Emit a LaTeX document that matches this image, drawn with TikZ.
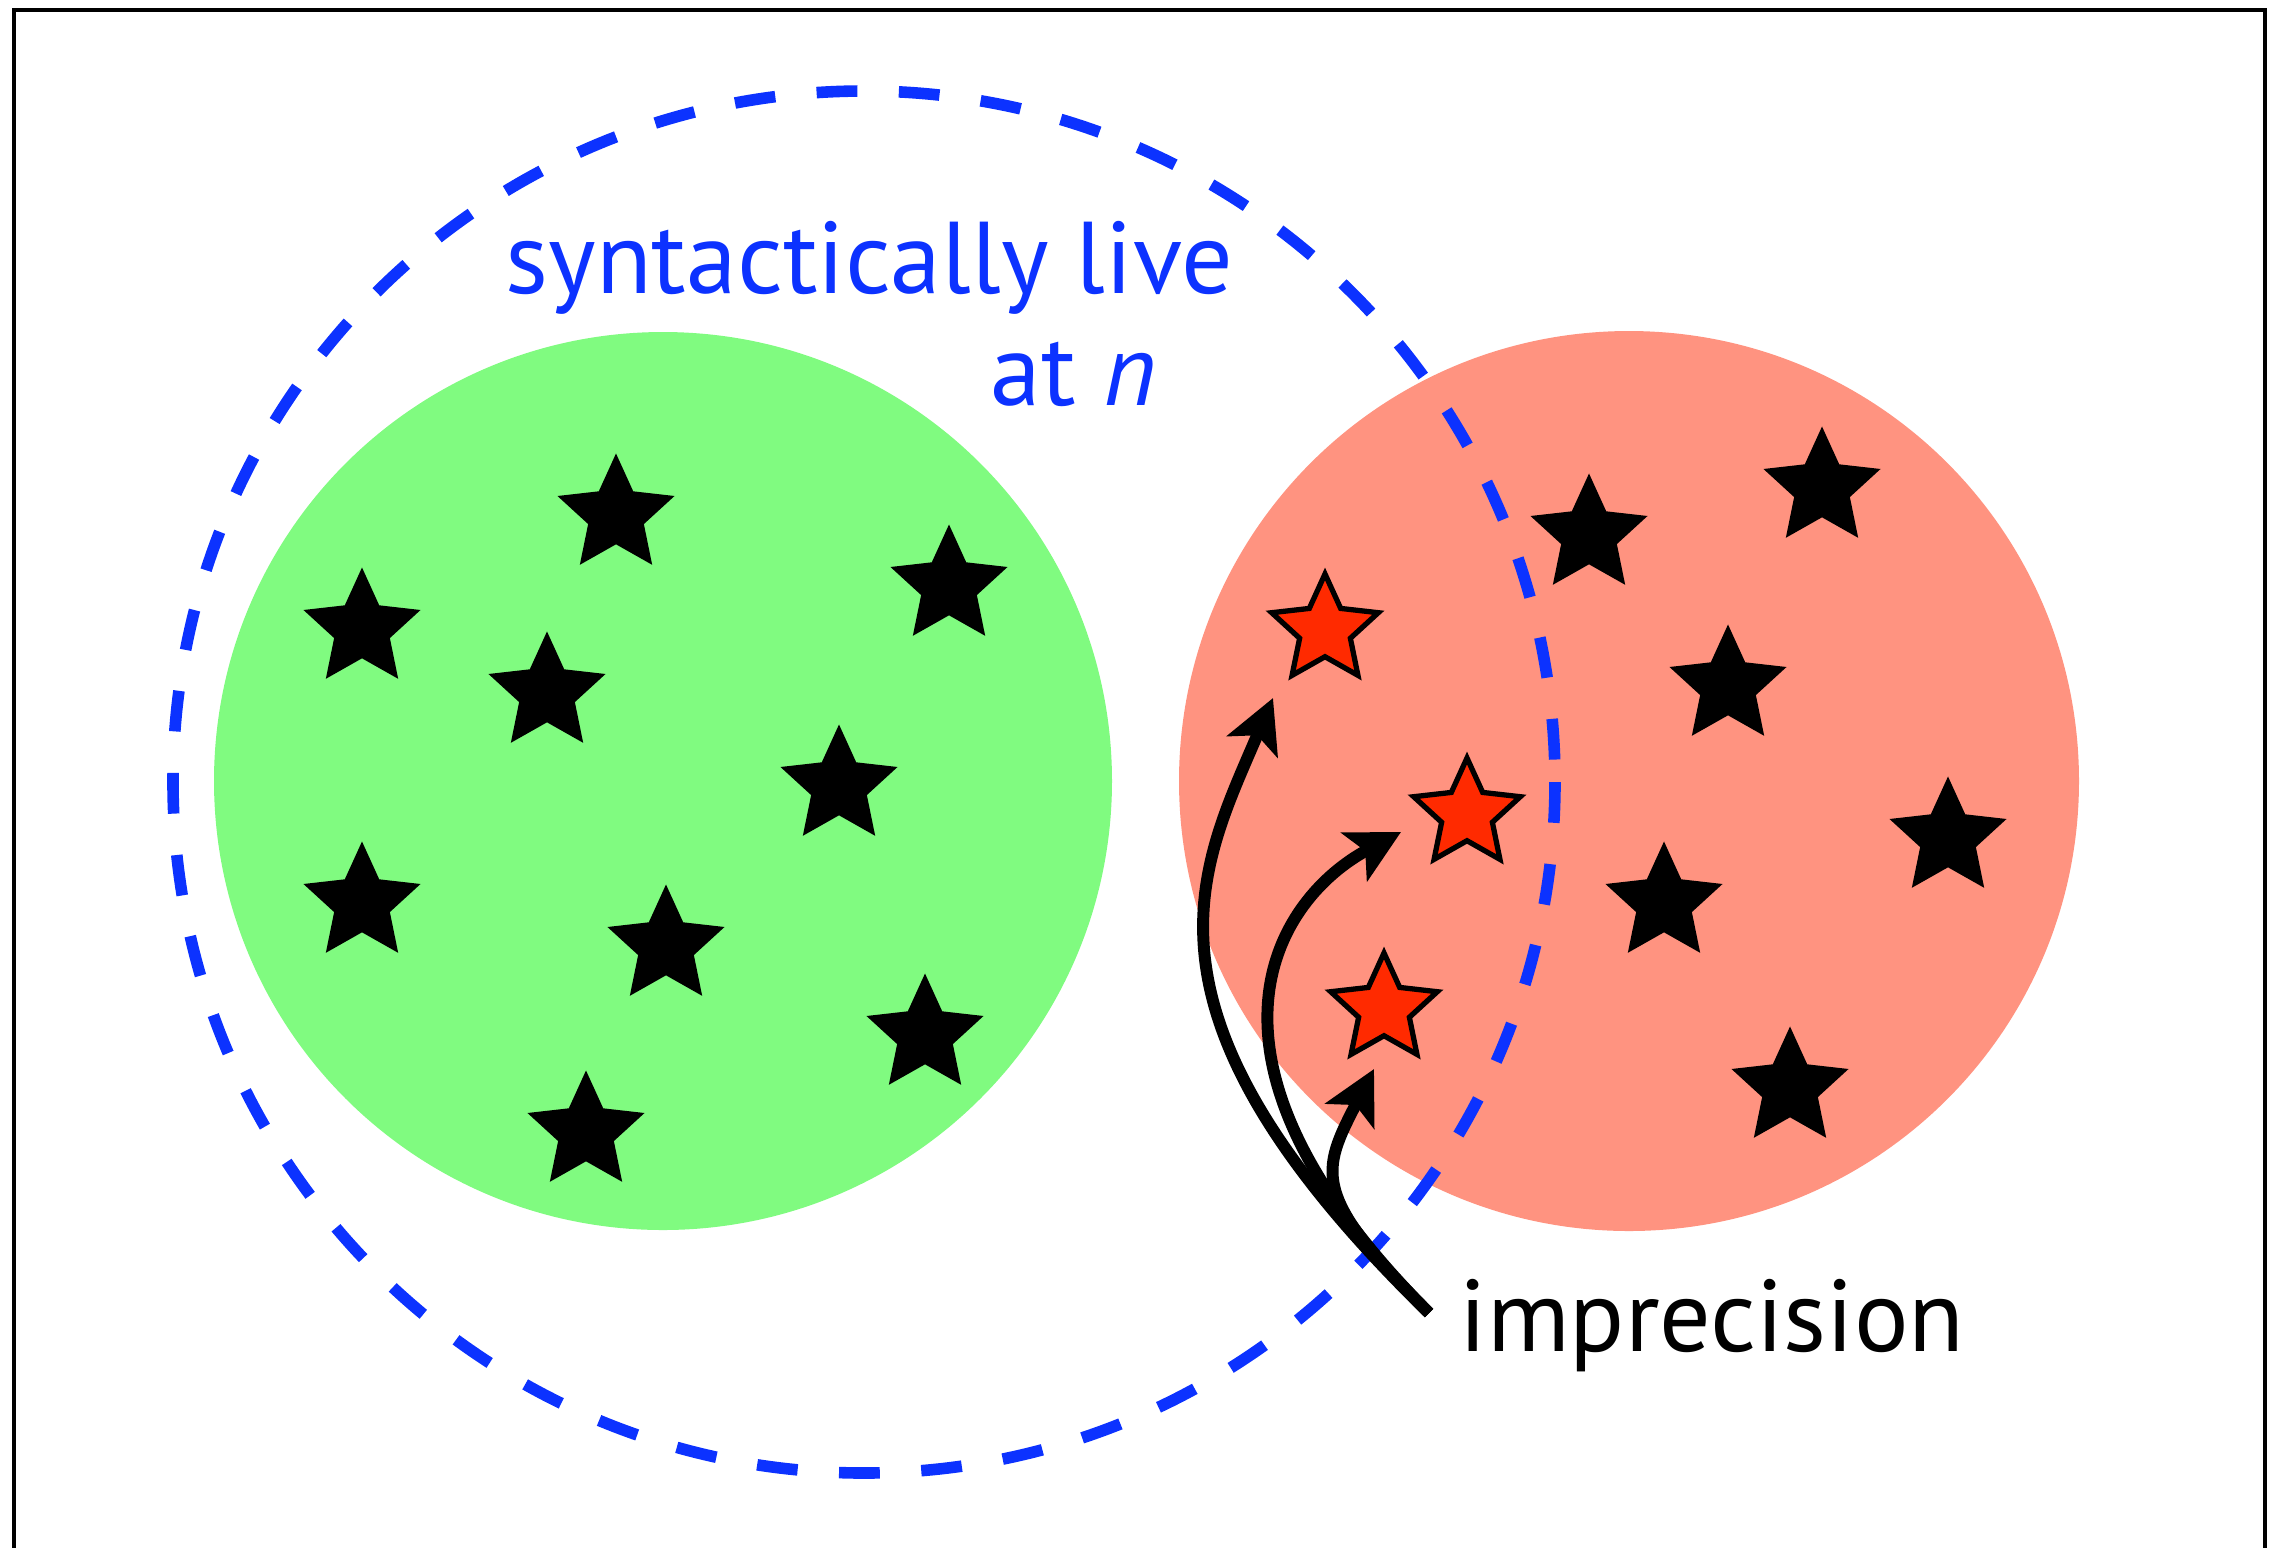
\documentclass[tikz,border=0pt]{standalone}
\usepackage{fontspec}
\setmainfont{PT Sans}
\usetikzlibrary{shapes.geometric, arrows.meta}
\definecolor{greenfill}{RGB}{128,251,128}
\definecolor{salmon}{RGB}{255,147,128}
\definecolor{starred}{RGB}{255,42,0}
\definecolor{liveblue}{RGB}{12,50,255}
\tikzset{
  blackstar/.style={star, star points=5, star point ratio=2.1, minimum size=1.23cm, inner sep=0pt, fill=black},
  redstar/.style={star, star points=5, star point ratio=2.1, minimum size=1.12cm, inner sep=0pt, fill=starred, draw=black, line width=1.5pt},
  fanarrow/.style={line width=3.4pt, -{Stealth[length=15pt, width=15.5pt, inset=3.5pt]}},
  txt/.style={inner sep=0pt, anchor=base west, font=\fontsize{29}{34}\selectfont},
  liveset/.style={draw=liveblue, line width=3.3pt, dash pattern=on 11.6pt off 11.8pt},
}
\begin{document}
\begin{tikzpicture}[x=0.01cm, y=-0.01cm]
\useasboundingbox (0,0) rectangle (2269,1547);
% frame
\draw[line width=1.4pt] (14,1550) -- (14,10) -- (2265,10) -- (2265,1550);
% sets
\fill[greenfill] (663,781) circle [radius=449];
\fill[salmon] (1629,781) circle [radius=450];
% black stars in green set
\node[blackstar] (g1) at (616,515) {};
\node[blackstar] (g2) at (362,629) {};
\node[blackstar] (g3) at (547,693) {};
\node[blackstar] (g4) at (949,586) {};
\node[blackstar] (g5) at (839,786) {};
\node[blackstar] (g6) at (362,903) {};
\node[blackstar] (g7) at (666,946) {};
\node[blackstar] (g8) at (925,1035) {};
\node[blackstar] (g9) at (586,1132) {};
% black stars in red set
\node[blackstar] (r1) at (1589,535) {};
\node[blackstar] (r2) at (1822,488) {};
\node[blackstar] (r3) at (1728,686) {};
\node[blackstar] (r4) at (1948,838) {};
\node[blackstar] (r5) at (1664,903) {};
\node[blackstar] (r6) at (1790,1088) {};
% red stars
\node[redstar] (s1) at (1325,630) {};
\node[redstar] (s2) at (1467,814) {};
\node[redstar] (s3) at (1384,1009) {};
% dashed live set
\draw[liveset] (864,782) circle [radius=691];
% arrows
\coordinate (src) at (1429,1313);
\coordinate (t1) at (1273,698);
\coordinate (t2) at (1401,832);
\coordinate (t3) at (1374,1069);
\draw[fanarrow] (src) .. controls (1118,1010) and (1200,870) .. (t1);
\draw[fanarrow] (src) .. controls (1170,1054) and (1279,897) .. (t2);
\draw[fanarrow] (src) .. controls (1310,1194) and (1321,1172) .. (t3);
% texts
\node[txt, text=liveblue] (live) at (505,293) {syntactically live};
\node[txt, text=liveblue] (atn) at (990,405) {at \textit{n}};
\node[txt] (imp) at (1459,1351) {imprecision};
\end{tikzpicture}
\end{document}
